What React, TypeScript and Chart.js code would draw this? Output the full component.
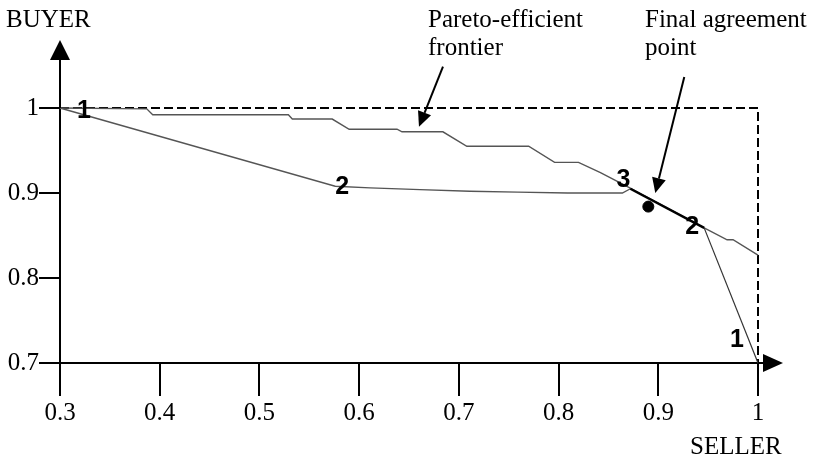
import React, { useEffect, useRef } from "react";
import { Chart, registerables } from "chart.js";

Chart.register(...registerables);

// ---- data ----
const xTickValues = [0.3, 0.4, 0.5, 0.6, 0.7, 0.8, 0.9, 1];
const yTickValues = [0.7, 0.8, 0.9, 1];

const boundaryX = [0.3, 1, 1];
const boundaryY = [1, 1, 0.7];

const frontierX = [0.3, 0.387, 0.393, 0.529, 0.533, 0.573, 0.59, 0.638, 0.643, 0.684, 0.708, 0.77, 0.796, 0.82, 0.842, 0.87, 0.946, 0.969, 0.975, 1.0];
const frontierY = [1.0, 0.999, 0.992, 0.992, 0.987, 0.987, 0.975, 0.975, 0.972, 0.972, 0.955, 0.955, 0.936, 0.936, 0.924, 0.907, 0.859, 0.845, 0.845, 0.827];

const buyerX = [0.3, 0.576, 0.611, 0.661, 0.711, 0.759, 0.809, 0.864, 0.872];
const buyerY = [1.0, 0.908, 0.906, 0.904, 0.902, 0.901, 0.9, 0.9, 0.905];
const buyerRoundIndex = [0, 1, 8];
const buyerRoundLabels = ["1", "2", "3"];

const sellerX = [1.0, 0.946];
const sellerY = [0.7, 0.859];
const sellerRoundIndex = [0, 1];
const sellerRoundLabels = ["1", "2"];

const agreementX = [0.872, 0.946];
const agreementY = [0.905, 0.859];

const finalPointX = [0.89];
const finalPointY = [0.884];

const xAxisTitle = "SELLER";
const yAxisTitle = "BUYER";
const frontierNote = ["Pareto-efficient", "frontier"];
const agreementNote = ["Final agreement", "point"];
const frontierArrowTip = [0.66, 0.978];
const agreementArrowTip = [0.897, 0.9];

const SERIF = "'Times New Roman', 'Liberation Serif', serif";
const SANS = "Arial, 'Liberation Sans', sans-serif";

const pts = (xs: number[], ys: number[]) => xs.map((x, i) => ({ x, y: ys[i] }));

function drawArrow(ctx: CanvasRenderingContext2D, x1: number, y1: number, x2: number, y2: number) {
  const ang = Math.atan2(y2 - y1, x2 - x1);
  const hl = 15, hw = 7;
  const bx = x2 - hl * Math.cos(ang), by = y2 - hl * Math.sin(ang);
  ctx.beginPath();
  ctx.moveTo(x1, y1);
  ctx.lineTo(bx, by);
  ctx.lineWidth = 2;
  ctx.strokeStyle = "#000";
  ctx.stroke();
  ctx.beginPath();
  ctx.moveTo(x2, y2);
  ctx.lineTo(bx + hw * Math.sin(ang), by - hw * Math.cos(ang));
  ctx.lineTo(bx - hw * Math.sin(ang), by + hw * Math.cos(ang));
  ctx.closePath();
  ctx.fillStyle = "#000";
  ctx.fill();
}

const decorPlugin = {
  id: "decor",
  afterDraw(chart: any) {
    const ctx: CanvasRenderingContext2D = chart.ctx;
    const xs = chart.scales.x, ys = chart.scales.y;
    const { left, right, top, bottom } = chart.chartArea;
    ctx.save();
    // axis extensions + arrow heads
    ctx.strokeStyle = "#000";
    ctx.lineWidth = 2;
    ctx.beginPath();
    ctx.moveTo(left, top);
    ctx.lineTo(left, 56);
    ctx.moveTo(right, bottom);
    ctx.lineTo(766, bottom);
    ctx.stroke();
    ctx.fillStyle = "#000";
    ctx.beginPath();
    ctx.moveTo(left, 40);
    ctx.lineTo(left - 10, 60);
    ctx.lineTo(left + 10, 60);
    ctx.closePath();
    ctx.fill();
    ctx.beginPath();
    ctx.moveTo(783, bottom);
    ctx.lineTo(763, bottom - 9);
    ctx.lineTo(763, bottom + 9);
    ctx.closePath();
    ctx.fill();

    // texts
    ctx.font = `25px ${SERIF}`;
    ctx.textAlign = "left";
    ctx.textBaseline = "alphabetic";
    ctx.fillText(yAxisTitle, 6, 27);
    ctx.fillText(xAxisTitle, 690, 454);
    ctx.fillText(frontierNote[0], 428, 27);
    ctx.fillText(frontierNote[1], 428, 55);
    ctx.fillText(agreementNote[0], 645, 27);
    ctx.fillText(agreementNote[1], 645, 55);

    // annotation arrows
    const ftx = xs.getPixelForValue(frontierArrowTip[0]);
    const fty = ys.getPixelForValue(frontierArrowTip[1]);
    drawArrow(ctx, ftx + 24, fty - 60, ftx, fty);
    const atx = xs.getPixelForValue(agreementArrowTip[0]);
    const aty = ys.getPixelForValue(agreementArrowTip[1]);
    drawArrow(ctx, atx + 29, aty - 116, atx, aty);

    // round labels
    ctx.font = `bold 25px ${SANS}`;
    ctx.textAlign = "center";
    ctx.textBaseline = "middle";
    const buyerOff = [[24, 3], [7, 1], [-7, -9]];
    buyerRoundIndex.forEach((idx, i) => {
      const px = xs.getPixelForValue(buyerX[idx]);
      const py = ys.getPixelForValue(buyerY[idx]);
      ctx.fillText(buyerRoundLabels[i], px + buyerOff[i][0], py + buyerOff[i][1]);
    });
    const sellerOff = [[-21, -23], [-12, -1]];
    sellerRoundIndex.forEach((idx, i) => {
      const px = xs.getPixelForValue(sellerX[idx]);
      const py = ys.getPixelForValue(sellerY[idx]);
      ctx.fillText(sellerRoundLabels[i], px + sellerOff[i][0], py + sellerOff[i][1]);
    });
    ctx.restore();
  },
};

export default function App() {
  const ref = useRef<HTMLCanvasElement | null>(null);
  useEffect(() => {
    if (!ref.current) return;
    const chart = new Chart(ref.current, {
      type: "scatter",
      data: {
        datasets: [
          {
            data: pts(finalPointX, finalPointY),
            pointRadius: 5.5,
            pointBackgroundColor: "#000",
            pointBorderColor: "#000",
            showLine: false,
            clip: false,
          },
          {
            data: pts(agreementX, agreementY),
            showLine: true,
            borderColor: "#000",
            borderWidth: 2.5,
            pointRadius: 0,
            clip: false,
          },
          {
            data: pts(sellerX, sellerY),
            showLine: true,
            borderColor: "#333",
            borderWidth: 1.2,
            pointRadius: 0,
            clip: false,
          },
          {
            data: pts(buyerX, buyerY),
            showLine: true,
            borderColor: "#555",
            borderWidth: 1.4,
            pointRadius: 0,
            clip: false,
          },
          {
            data: pts(frontierX, frontierY),
            showLine: true,
            borderColor: "#555",
            borderWidth: 1.4,
            pointRadius: 0,
            clip: false,
          },
          {
            data: pts(boundaryX, boundaryY),
            showLine: true,
            borderColor: "#000",
            borderWidth: 2,
            borderDash: [9, 4],
            pointRadius: 0,
            clip: false,
          },
        ],
      },
      options: {
        animation: false,
        responsive: false,
        maintainAspectRatio: false,
        layout: { padding: { top: 108, right: 58, left: 0, bottom: 0 } },
        plugins: { legend: { display: false }, tooltip: { enabled: false } },
        scales: {
          x: {
            type: "linear",
            min: 0.3,
            max: 1,
            afterBuildTicks: (s: any) => {
              s.ticks = xTickValues.map((v) => ({ value: v }));
            },
            afterFit: (s: any) => {
              s.height = 96;
            },
            ticks: {
              autoSkip: false,
              maxRotation: 0,
              padding: 2,
              color: "#000",
              font: { family: SERIF, size: 25 },
              callback: (v: any) => (Number(v) === 1 ? "1" : Number(v).toFixed(1)),
            },
            grid: { drawOnChartArea: false, drawTicks: true, tickLength: 33, color: "#000", lineWidth: 2 },
            border: { display: true, color: "#000", width: 2 },
          },
          y: {
            type: "linear",
            min: 0.7,
            max: 1,
            afterBuildTicks: (s: any) => {
              s.ticks = yTickValues.map((v) => ({ value: v }));
            },
            afterFit: (s: any) => {
              s.width = 60;
            },
            ticks: {
              autoSkip: false,
              padding: 0,
              color: "#000",
              font: { family: SERIF, size: 25 },
              callback: (v: any) => (Number(v) === 1 ? "1" : Number(v).toFixed(1)),
            },
            grid: { drawOnChartArea: false, drawTicks: true, tickLength: 21, color: "#000", lineWidth: 2 },
            border: { display: true, color: "#000", width: 2 },
          },
        },
      },
      plugins: [decorPlugin],
    });
    return () => chart.destroy();
  }, []);
  return (
    <div style={{ position: "fixed", left: 0, top: 0, width: 816, height: 459, background: "#fff" }}>
      <canvas ref={ref} width={816} height={459} style={{ display: "block", width: 816, height: 459 }} />
    </div>
  );
}
